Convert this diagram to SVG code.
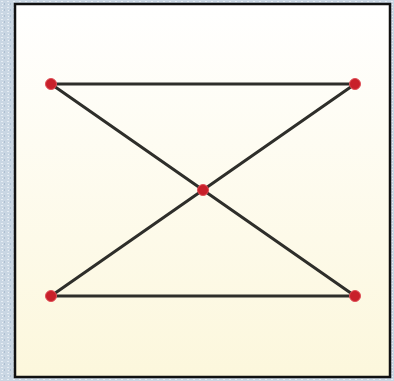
<svg xmlns="http://www.w3.org/2000/svg" width="394" height="381" viewBox="0 0 394 381">
<defs>
<linearGradient id="bg" x1="0" y1="0" x2="0" y2="1">
<stop offset="0" stop-color="#ffffff"/>
<stop offset="1" stop-color="#fcf7dc"/>
</linearGradient>
<pattern id="tex" width="6" height="6" patternUnits="userSpaceOnUse">
<rect width="6" height="6" fill="#c9d6e3"/>
<rect x="1" y="1" width="2" height="1" fill="#e6edf4"/>
<rect x="4" y="3" width="1" height="2" fill="#aebfd1"/>
<rect x="2" y="4" width="1" height="1" fill="#eef3f8"/>
</pattern>
</defs>
<style>
.edge{stroke:#2e2e2a;stroke-width:3;stroke-linecap:round;fill:none}
.node{fill:#c8202a;stroke:#e05058;stroke-width:1}
</style>
<rect width="394" height="381" fill="url(#tex)"/>
<rect x="15" y="4" width="375" height="373" fill="url(#bg)" stroke="#111" stroke-width="2.5"/>
<g id="connectors">
<line class="edge" x1="51" y1="84" x2="355" y2="84"/>
<line class="edge" x1="51" y1="296" x2="355" y2="296"/>
<line class="edge" x1="51" y1="84" x2="355" y2="296"/>
<line class="edge" x1="355" y1="84" x2="51" y2="296"/>
</g>
<g id="n1"><circle class="node" cx="51" cy="84" r="5.5"/></g>
<g id="n2"><circle class="node" cx="355" cy="84" r="5.5"/></g>
<g id="n3"><circle class="node" cx="203" cy="190" r="5.5"/></g>
<g id="n4"><circle class="node" cx="51" cy="296" r="5.5"/></g>
<g id="n5"><circle class="node" cx="355" cy="296" r="5.5"/></g>
</svg>
